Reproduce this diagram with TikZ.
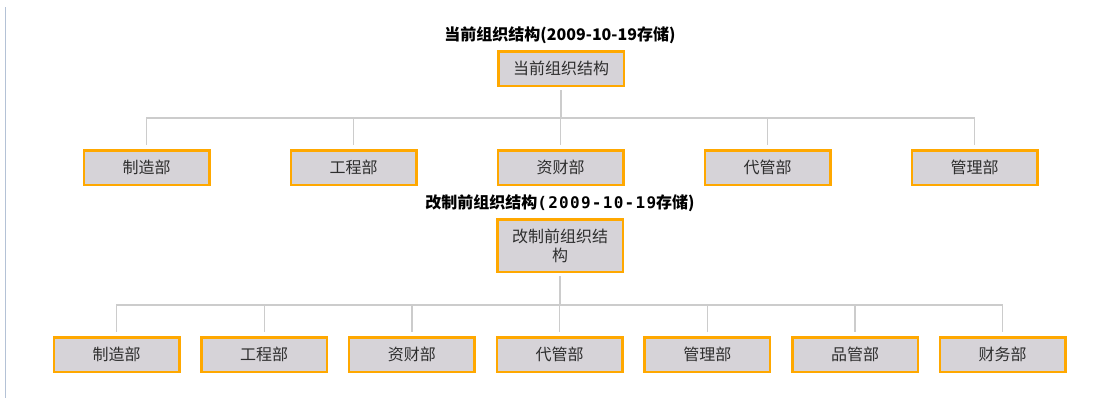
\documentclass[tikz,border=0pt]{standalone}
\usepackage{fontspec}
\newfontfamily\cjk{Noto Sans CJK SC}
\newfontfamily\monob{DejaVu Sans Mono Bold}
\definecolor{boxfill}{HTML}{D6D3D8}
\definecolor{boxline}{HTML}{FFA800}
\definecolor{connc}{HTML}{CCCCCC}
\definecolor{txt}{HTML}{2E2E2E}
\definecolor{sidec}{HTML}{B4C2D6}
\tikzset{
  orgbox/.style={draw=boxline, line width=2.5pt, fill=boxfill, minimum width=125.5pt,
    minimum height=34.5pt, inner sep=1pt, align=center, text=txt,
    font=\cjk\fontsize{16}{19}\selectfont},
  titletext/.style={font=\cjk\bfseries\fontsize{16}{18}\selectfont, text=black, inner sep=0pt},
  conn/.style={draw=connc, line width=1.4pt}
}
\begin{document}
\begin{tikzpicture}[x=1pt,y=-1pt]
\useasboundingbox[fill=white] (0,0) rectangle (1120,405);
\draw[sidec, line width=1.5pt] (5.5,7) -- (5.5,398);

% first chart
\node[titletext] (t1) at (560,35) {当前组织结构(2009-10-19存储)};
\node[orgbox] (r1) at (561,68.5) {当前组织结构};
\coordinate (b1) at (0,118);
\draw[conn] ([yshift=-3pt]r1.south) -- (r1.south |- b1);
\foreach \n/\x/\s in {a/146.5/制造部, b/353.5/工程部, c/560.5/资财部, d/767.5/代管部, e/974.5/管理部}{
  \node[orgbox] (c1\n) at (\x,167.5) {\s};
  \draw[conn] (r1.south |- b1) -| ([yshift=4pt]c1\n.north);
}

% second chart
\node[titletext] (t2) at (560,203) {改制前组织结构{\monob\addfontfeature{LetterSpace=8}(2009-10-19}存储)};
\node[orgbox, minimum height=52.5pt] (r2) at (560,245.5) {改制前组织结\\构};
\coordinate (b2) at (0,305);
\draw[conn] ([yshift=-3pt]r2.south) -- (r2.south |- b2);
\foreach \n/\x/\s in {a/116.5/制造部, b/264.2/工程部, c/411.9/资财部, d/559.6/代管部, e/707.3/管理部, f/855/品管部, g/1002.7/财务部}{
  \node[orgbox] (c2\n) at (\x,354.5) {\s};
  \draw[conn] (r2.south |- b2) -| ([yshift=4pt]c2\n.north);
}
\end{tikzpicture}
\end{document}
